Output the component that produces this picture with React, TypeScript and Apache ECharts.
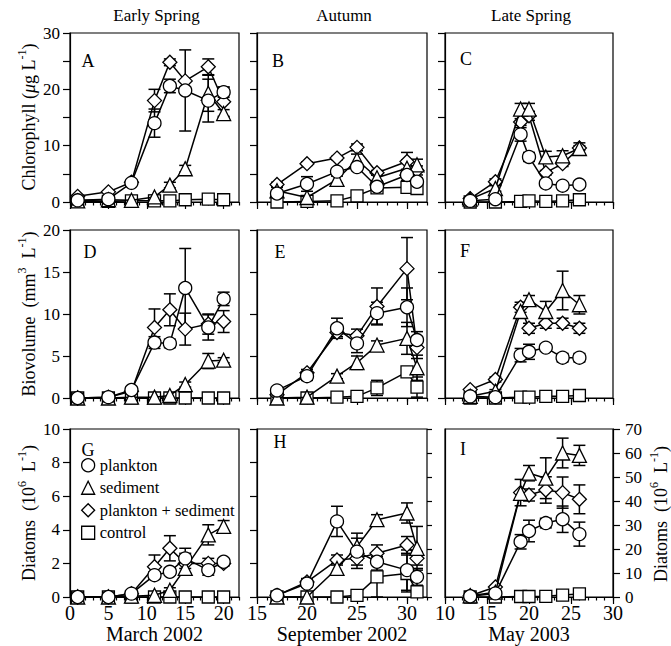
import React, { useEffect, useRef } from 'react';
import * as echarts from 'echarts';

// ---------- x values (sampling days) ----------
const daysMarch = [1, 5, 8, 11, 13, 15, 18, 20];
const daysSept = [17, 20, 23, 25, 27, 30, 31];
const daysMay = [13, 16, 19, 20, 22, 24, 26];

// ---------- A: Chlorophyll, early spring ----------
const A_pl = [0.3, 0.5, 3.4, 14.0, 20.6, 19.8, 18.0, 19.5];
const A_pl_se = [0, 0, 0.3, 2.5, 1.2, 7.2, 3.8, 0.9];
const A_sed = [0.2, 0.4, 0.3, 0.9, 3.0, 5.9, 19.3, 15.7];
const A_sed_se = [0, 0, 0, 0.3, 0.5, 0.6, 3.2, 0.7];
const A_ps = [1.0, 1.8, 3.5, 18.0, 24.8, 21.5, 24.0, 17.8];
const A_ps_se = [0, 0, 0.3, 2.0, 0.6, 0, 1.4, 2.6];
const A_ctl = [0.1, 0.1, 0.2, 0.2, 0.2, 0.4, 0.5, 0.4];
const A_ctl_se = [0, 0, 0, 0, 0, 0, 0, 0];

// ---------- B: Chlorophyll, autumn ----------
const B_pl = [1.5, 3.2, 5.4, 6.2, 2.7, 4.8, 3.6];
const B_pl_se = [0, 1.3, 0.5, 0.6, 0.3, 1.0, 0.6];
const B_sed = [2.0, 0.8, 4.0, 7.5, 4.3, 6.0, 6.6];
const B_sed_se = [0.6, 0.3, 0.6, 1.0, 0.5, 1.5, 1.0];
const B_ps = [3.1, 6.8, 7.8, 9.7, 5.2, 7.2, 5.6];
const B_ps_se = [0.4, 0.3, 0.3, 0.6, 0.4, 1.6, 0.8];
const B_ctl = [0.0, 0.1, 0.2, 1.1, 2.5, 2.6, 2.4];
const B_ctl_se = [0, 0, 0, 0, 0, 0.8, 0.9];

// ---------- C: Chlorophyll, late spring ----------
const C_pl = [0.2, 0.5, 12.0, 8.0, 3.3, 2.9, 3.1];
const C_pl_se = [0, 0, 1.2, 0.8, 0.5, 0.4, 0.4];
const C_sed = [0.5, 2.4, 16.5, 16.5, 8.0, 8.2, 9.5];
const C_sed_se = [0, 0.5, 1.0, 1.0, 1.0, 0.9, 1.0];
const C_ps = [0.6, 3.6, 14.2, 15.3, 5.2, 6.8, 9.6];
const C_ps_se = [0, 0.5, 0.6, 0.8, 0.4, 0.5, 0.4];
const C_ctl = [0.0, 0.0, 0.1, 0.2, 0.1, 0.2, 0.4];
const C_ctl_se = [0, 0, 0, 0, 0, 0, 0];

// ---------- D: Biovolume, early spring ----------
const D_pl = [0, 0.1, 0.95, 6.6, 6.5, 13.1, 8.4, 11.8];
const D_pl_se = [0, 0, 0.2, 0.7, 0.5, 4.7, 1.5, 0.8];
const D_sed = [0, 0, 0.1, 0.1, 0.3, 1.6, 4.4, 4.5];
const D_sed_se = [0, 0, 0, 0, 0, 0.3, 0.9, 0.3];
const D_ps = [0, 0.1, 0.8, 8.4, 10.5, 8.2, 8.8, 9.1];
const D_ps_se = [0, 0, 0, 2.2, 1.9, 1.9, 1.2, 1.3];
const D_ctl = [0, 0, 0, 0, 0, 0, 0, 0];
const D_ctl_se = [0, 0, 0, 0, 0, 0, 0, 0];

// ---------- E: Biovolume, autumn ----------
const E_pl = [0.9, 2.6, 8.3, 6.5, 10.1, 10.8, 6.9];
const E_pl_se = [0.3, 0.5, 1.2, 1.1, 1.3, 2.3, 1.0];
const E_sed = [0, 0.1, 2.6, 4.2, 6.3, 7.1, 3.6];
const E_sed_se = [0, 0, 0.3, 0.8, 0.5, 1.9, 1.5];
const E_ps = [0.4, 3.0, 7.8, 7.4, 10.9, 15.4, 6.0];
const E_ps_se = [0.3, 0.4, 0.5, 0.8, 2.2, 3.7, 1.3];
const E_ctl = [0, 0, 0.1, 0.2, 1.2, 3.1, 1.3];
const E_ctl_se = [0, 0, 0, 0, 0.9, 0.3, 1.2];

// ---------- F: Biovolume, late spring ----------
const F_pl = [0.2, 0.1, 5.1, 5.5, 6.0, 4.8, 4.8];
const F_pl_se = [0, 0, 0.8, 0.9, 0.4, 0.5, 0.5];
const F_sed = [0.2, 0.8, 10.3, 11.7, 10.3, 12.8, 11.1];
const F_sed_se = [0, 0.2, 0.8, 0.5, 1.2, 2.3, 1.1];
const F_ps = [1.0, 2.2, 10.8, 8.3, 8.9, 8.9, 8.3];
const F_ps_se = [0, 0.3, 0.6, 0.6, 0.6, 0.6, 0.6];
const F_ctl = [0, 0, 0.1, 0.1, 0.2, 0.2, 0.3];
const F_ctl_se = [0, 0, 0, 0, 0, 0, 0];

// ---------- G: Diatoms, early spring ----------
const G_pl = [0, 0, 0.2, 1.3, 1.5, 2.3, 1.6, 2.1];
const G_pl_se = [0, 0, 0, 0.2, 0.2, 0.6, 0.3, 0.15];
const G_sed = [0, 0, 0.05, 0.1, 0.4, 1.7, 3.7, 4.2];
const G_sed_se = [0, 0, 0, 0, 0.15, 0.3, 0.6, 0.35];
const G_ps = [0, 0, 0.2, 1.8, 2.9, 2.0, 2.0, 2.0];
const G_ps_se = [0, 0, 0, 0.7, 0.75, 0.6, 0.3, 0.15];
const G_ctl = [0, 0, 0, 0, 0, 0, 0, 0];
const G_ctl_se = [0, 0, 0, 0, 0, 0, 0, 0];

// ---------- H: Diatoms, autumn ----------
const H_pl = [0.1, 0.8, 4.5, 2.7, 2.1, 1.6, 1.2];
const H_pl_se = [0, 0.2, 0.9, 0.8, 0.5, 1.2, 0.5];
const H_sed = [0, 0, 1.7, 3.0, 4.6, 5.0, 2.9];
const H_sed_se = [0, 0, 0.3, 0.8, 0.3, 0.6, 1.3];
const H_ps = [0.1, 0.9, 2.2, 2.3, 2.6, 3.1, 2.3];
const H_ps_se = [0, 0.2, 0.3, 0.6, 0.5, 0.5, 0.4];
const H_ctl = [0, 0, 0, 0.1, 1.2, 1.4, 0.3];
const H_ctl_se = [0, 0, 0, 0, 1.2, 1.1, 0];

// ---------- I: Diatoms, late spring (right axis, 0-70) ----------
const I_pl = [0.3, 1.5, 23, 27.5, 30.8, 32.4, 26.2];
const I_pl_se = [0, 0, 3, 4.5, 2, 5.5, 5];
const I_sed = [0.5, 2, 43.2, 51.6, 49.5, 60, 59];
const I_sed_se = [0, 0, 0, 3.2, 8.5, 6.2, 4.2];
const I_ps = [0.5, 4.2, 43.5, 42.5, 44.6, 43.5, 40.7];
const I_ps_se = [0, 0, 5.5, 2.5, 5.5, 6.5, 6];
const I_ctl = [0, 0, 0.2, 0.2, 0.3, 0.8, 1.3];
const I_ctl_se = [0, 0, 0, 0, 0, 0, 0];

// ---------- labels / ticks ----------
const treatments = ['plankton', 'sediment', 'plankton + sediment', 'control'];
const seasonTitles = ['Early Spring', 'Autumn', 'Late Spring'];
const monthNames = ['March 2002', 'September 2002', 'May 2003'];
const panelLetters = ['A', 'B', 'C', 'D', 'E', 'F', 'G', 'H', 'I'];
const xMajor = [[0, 5, 10, 15, 20], [15, 20, 25, 30], [10, 15, 20, 25, 30]];
const xRange = [[0, 22], [15, 32], [10, 30]];
const yMax = [30, 20, 10];
const yStep = [5, 5, 2];
const yLabelStep = [10, 5, 2];
const rightMax = 70;

const FONT = "'Liberation Serif', 'Times New Roman', serif";

const panels = [
  { days: daysMarch, vals: [A_pl, A_sed, A_ps, A_ctl], errs: [A_pl_se, A_sed_se, A_ps_se, A_ctl_se] },
  { days: daysSept, vals: [B_pl, B_sed, B_ps, B_ctl], errs: [B_pl_se, B_sed_se, B_ps_se, B_ctl_se] },
  { days: daysMay, vals: [C_pl, C_sed, C_ps, C_ctl], errs: [C_pl_se, C_sed_se, C_ps_se, C_ctl_se] },
  { days: daysMarch, vals: [D_pl, D_sed, D_ps, D_ctl], errs: [D_pl_se, D_sed_se, D_ps_se, D_ctl_se] },
  { days: daysSept, vals: [E_pl, E_sed, E_ps, E_ctl], errs: [E_pl_se, E_sed_se, E_ps_se, E_ctl_se] },
  { days: daysMay, vals: [F_pl, F_sed, F_ps, F_ctl], errs: [F_pl_se, F_sed_se, F_ps_se, F_ctl_se] },
  { days: daysMarch, vals: [G_pl, G_sed, G_ps, G_ctl], errs: [G_pl_se, G_sed_se, G_ps_se, G_ctl_se] },
  { days: daysSept, vals: [H_pl, H_sed, H_ps, H_ctl], errs: [H_pl_se, H_sed_se, H_ps_se, H_ctl_se] },
  { days: daysMay, vals: [I_pl, I_sed, I_ps, I_ctl], errs: [I_pl_se, I_sed_se, I_ps_se, I_ctl_se] },
];

// ---------- layout ----------
const colLeft = [70, 257, 445];
const colWidth = [169, 170, 168];
const rowTop = [33, 230, 429];
const rowHeight = [169, 168, 168];
const letterPos = [[88, 61], [278, 61], [466, 59], [90, 252], [280, 252], [465, 251], [88, 450], [280, 442], [463, 449]];
const symbols = ['circle', 'triangle', 'diamond', 'rect'];
const symbolSizes = [13, 14, 14, 12];

const range = (a: number, b: number) => {
  const r: number[] = [];
  for (let i = a; i <= b; i++) r.push(i);
  return r;
};

const renderErr = (params: any, api: any) => {
  const x = api.value(0);
  const y = api.value(1);
  const e = api.value(2);
  const lo = Math.max(0, y - e);
  const p1 = api.coord([x, y + e]);
  const p2 = api.coord([x, lo]);
  const hw = 6;
  const st = { stroke: '#000', lineWidth: 1.5, fill: null };
  return {
    type: 'group',
    children: [
      { type: 'line', shape: { x1: p1[0], y1: p1[1], x2: p2[0], y2: p2[1] }, style: st },
      { type: 'line', shape: { x1: p1[0] - hw, y1: p1[1], x2: p1[0] + hw, y2: p1[1] }, style: st },
      { type: 'line', shape: { x1: p2[0] - hw, y1: p2[1], x2: p2[0] + hw, y2: p2[1] }, style: st },
    ],
  };
};

function buildOption() {
  const grid: any[] = [];
  const xAxis: any[] = [];
  const yAxis: any[] = [];
  const series: any[] = [];
  const lineSt = { color: '#000', width: 1.2 };

  for (let p = 0; p < 9; p++) {
    const col = p % 3;
    const row = Math.floor(p / 3);
    grid.push({
      left: colLeft[col], top: rowTop[row], width: colWidth[col], height: rowHeight[row],
      show: true, borderColor: '#000', borderWidth: 1.2, backgroundColor: 'transparent',
      containLabel: false, outerBoundsMode: 'none',
    });
    const [xmin, xmax] = xRange[col];
    xAxis.push({
      type: 'value', gridIndex: p, min: xmin, max: xmax, interval: 5, position: 'bottom',
      axisLine: { show: true, lineStyle: lineSt },
      axisTick: { show: true, inside: false, length: 7, lineStyle: lineSt, customValues: xMajor[col] },
      axisLabel: {
        show: row === 2, customValues: xMajor[col], fontSize: 20, fontFamily: FONT, color: '#000', margin: 6,
      },
      splitLine: { show: false },
    });
    xAxis.push({
      type: 'value', gridIndex: p, min: xmin, max: xmax, interval: 1, position: 'bottom',
      axisLine: { show: false },
      axisTick: { show: true, inside: false, length: 3.5, lineStyle: lineSt, customValues: range(xmin, xmax) },
      axisLabel: { show: false },
      splitLine: { show: false },
    });
    const ls = yLabelStep[row];
    yAxis.push({
      type: 'value', gridIndex: p, min: 0, max: yMax[row], interval: yStep[row], position: 'left',
      axisLine: { show: true, lineStyle: lineSt },
      axisTick: { show: p !== 8, inside: false, length: 7, lineStyle: lineSt },
      axisLabel: {
        show: col === 0, fontSize: 17, fontFamily: FONT, color: '#000', margin: 10,
        formatter: (v: number) => (Math.abs(v % ls) < 1e-9 ? String(v) : ''),
      },
      splitLine: { show: false },
    });
  }
  // right axis of panel I (index 9)
  yAxis.push({
    type: 'value', gridIndex: 8, min: 0, max: rightMax, interval: 10, position: 'right',
    axisLine: { show: true, lineStyle: lineSt },
    axisTick: { show: true, inside: false, length: 7, lineStyle: lineSt },
    axisLabel: { show: true, fontSize: 17, fontFamily: FONT, color: '#000', margin: 12 },
    splitLine: { show: false },
  });
  // right ticks of panel H (index 10)
  yAxis.push({
    type: 'value', gridIndex: 7, min: 0, max: rightMax, interval: 10, position: 'right',
    axisLine: { show: false },
    axisTick: { show: true, inside: false, length: 5, lineStyle: lineSt },
    axisLabel: { show: false },
    splitLine: { show: false },
  });

  panels.forEach((pan, p) => {
    const yIdx = p === 8 ? 9 : p;
    const errRows: number[][] = [];
    pan.vals.forEach((vals, t) => {
      vals.forEach((v, i) => {
        const e = pan.errs[t][i];
        if (e > 0) errRows.push([pan.days[i], v, e]);
      });
    });
    series.push({
      type: 'custom', xAxisIndex: p * 2, yAxisIndex: yIdx, data: errRows,
      encode: { x: 0, y: 1 }, renderItem: renderErr, z: 2, silent: true, clip: false,
    });
    pan.vals.forEach((vals, t) => {
      series.push({
        type: 'line', name: treatments[t], xAxisIndex: p * 2, yAxisIndex: yIdx,
        data: vals.map((v, i) => [pan.days[i], v]),
        symbol: symbols[t], symbolSize: symbolSizes[t], showSymbol: true, clip: false,
        itemStyle: { color: '#fff', borderColor: '#000', borderWidth: 1.3 },
        lineStyle: { color: '#000', width: 1.5 },
        emphasis: { disabled: true }, silent: true, z: 3 + (3 - t) * 0.1,
      });
    });
  });

  const graphic: any[] = [];
  seasonTitles.forEach((t, c) => {
    graphic.push({
      type: 'text', x: colLeft[c] + colWidth[c] / 2 + 2, y: 15,
      style: { text: t, fontSize: 17, fontFamily: FONT, fill: '#000', align: 'center', verticalAlign: 'middle' },
    });
  });
  monthNames.forEach((t, c) => {
    graphic.push({
      type: 'text', x: colLeft[c] + colWidth[c] / 2, y: 634,
      style: { text: t, fontSize: 20, fontFamily: FONT, fill: '#000', align: 'center', verticalAlign: 'middle' },
    });
  });
  panelLetters.forEach((l, p) => {
    graphic.push({
      type: 'text', x: letterPos[p][0], y: letterPos[p][1],
      style: { text: l, fontSize: 18, fontFamily: FONT, fill: '#000', align: 'center', verticalAlign: 'middle' },
    });
  });
  const rich = {
    m: { fontSize: 18, fontFamily: FONT, lineHeight: 22, verticalAlign: 'bottom', fill: '#000' },
    i: { fontSize: 18, fontFamily: FONT, fontStyle: 'italic', lineHeight: 22, verticalAlign: 'bottom', fill: '#000' },
    s: { fontSize: 12, fontFamily: FONT, lineHeight: 12, verticalAlign: 'top', fill: '#000' },
  };
  const yNames = [
    { text: '{m|Chlorophyll (}{i|μ}{m|g L}{s|-1}{m|)}', x: 27, y: 117 },
    { text: '{m|Biovolume  (mm}{s|3}{m|  L}{s|-1}{m|)}', x: 27, y: 314 },
    { text: '{m|Diatoms  (10}{s|6}{m|  L}{s|-1}{m|)}', x: 27, y: 513 },
    { text: '{m|Diatoms  (10}{s|6}{m|  L}{s|-1}{m|)}', x: 659, y: 514 },
  ];
  yNames.forEach((n) => {
    graphic.push({
      type: 'text', x: n.x, y: n.y, rotation: Math.PI / 2,
      style: { text: n.text, rich, align: 'center', verticalAlign: 'middle', fill: '#000' },
    });
  });

  return {
    animation: false,
    backgroundColor: '#fff',
    grid, xAxis, yAxis, series, graphic,
    legend: {
      show: true, orient: 'vertical', left: 81, top: 456, padding: 0, itemGap: 4,
      itemWidth: 13, itemHeight: 13, selectedMode: false,
      textStyle: { fontFamily: FONT, fontSize: 16.5, color: '#000', lineHeight: 18.5 },
      itemStyle: { color: '#fff', borderColor: '#000', borderWidth: 1.3 },
      data: [
        { name: 'plankton', icon: 'circle' },
        { name: 'sediment', icon: 'triangle' },
        { name: 'plankton + sediment', icon: 'diamond' },
        { name: 'control', icon: 'rect' },
      ],
    },
  };
}

export default function App() {
  const ref = useRef<HTMLDivElement>(null);
  useEffect(() => {
    if (!ref.current) return;
    const chart = echarts.init(ref.current, undefined, { renderer: 'svg' });
    chart.setOption(buildOption() as any);
    return () => chart.dispose();
  }, []);
  return (
    <div
      ref={ref}
      style={{ position: 'absolute', left: 0, top: 0, width: 671, height: 646, background: '#fff' }}
    />
  );
}
